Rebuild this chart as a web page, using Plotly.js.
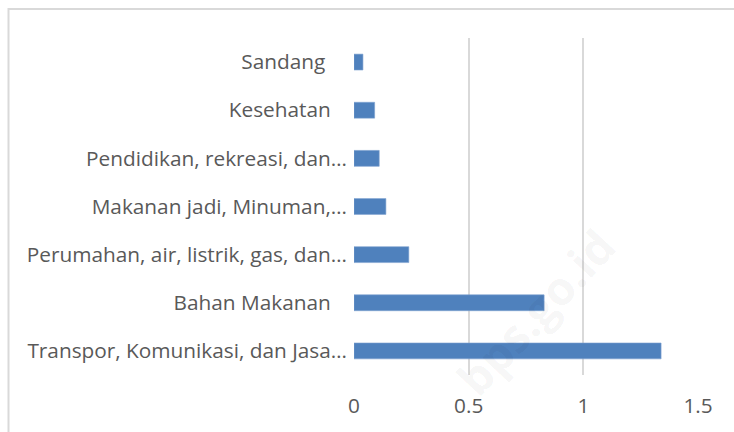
<!DOCTYPE html>
<html>
<head>
<meta charset="utf-8">
<script src="https://cdn.plot.ly/plotly-3.0.1.min.js"></script>
<style>html,body{margin:0;padding:0;background:#fff;}</style>
</head>
<body>
<div id="chart" style="width:734px;height:432px;"></div>
<script>
// categories listed bottom -> top
const categories = [
  "Transpor, Komunikasi, dan Jasa…",
  "Bahan Makanan\u00a0\u00a0\u00a0",
  "Perumahan, air, listrik, gas, dan…",
  "Makanan jadi, Minuman,…",
  "Pendidikan, rekreasi, dan…",
  "Kesehatan\u00a0\u00a0\u00a0",
  "Sandang\u00a0\u00a0\u00a0\u00a0"
];
const values = [1.339, 0.829, 0.239, 0.139, 0.11, 0.09, 0.039];
const xTicks = [0, 0.5, 1, 1.5];
const xTickLabels = ["0", "0.5", "1", "1.5"];

const W = 734, H = 432;
const L = 354, R = 36, T = 38, B = 57;
const pw = W - L - R, ph = H - T - B;
const px = v => (v - L) / pw;
const py = v => (H - B - v) / ph;

const font = {family: "Open Sans, Noto Sans, sans-serif", size: 20.8, color: "#595959"};

Plotly.newPlot("chart", [{
  type: "bar",
  orientation: "h",
  y: categories,
  x: values,
  marker: {color: "#4f81bd", line: {color: "#7ea1d0", width: 0.6}},
  hoverinfo: "none"
}], {
  width: W, height: H,
  margin: {l: L, r: R, t: T, b: B, pad: 0},
  paper_bgcolor: "#fff",
  plot_bgcolor: "#fff",
  bargap: 0.67,
  showlegend: false,
  font: font,
  xaxis: {
    range: [0, 1.5],
    tickvals: xTicks,
    ticktext: xTickLabels,
    showgrid: true,
    gridcolor: "#d9d9d9",
    gridwidth: 2,
    zeroline: false,
    showline: false,
    ticks: "",
    ticklabelstandoff: 16,
    tickfont: font,
    fixedrange: true
  },
  yaxis: {
    type: "category",
    showgrid: false,
    zeroline: false,
    showline: false,
    ticks: "",
    ticklabelstandoff: 6,
    tickfont: font,
    fixedrange: true
  },
  shapes: [{
    type: "rect", xref: "paper", yref: "paper",
    x0: px(8.5), x1: 3, y0: -2, y1: py(9),
    line: {color: "#d9d9d9", width: 2}
  }],
  annotations: [{
    text: "<b>bps.go.id</b>",
    xref: "paper", yref: "paper",
    x: px(535), y: py(312),
    xanchor: "center", yanchor: "middle",
    showarrow: false,
    textangle: -47,
    font: {family: "Open Sans, sans-serif", size: 46, color: "rgba(0,0,0,0.05)"}
  }]
}, {displayModeBar: false, staticPlot: true});
</script>
</body>
</html>
